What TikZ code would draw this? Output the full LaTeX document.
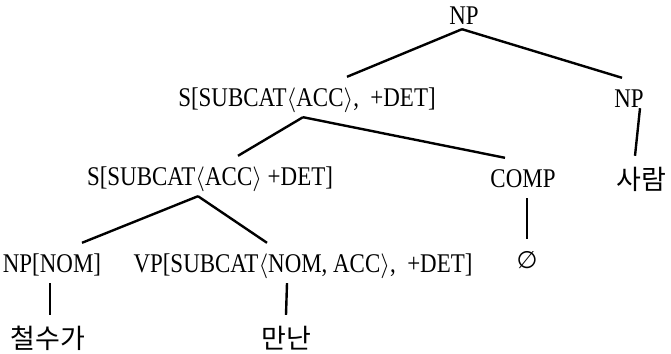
\documentclass[tikz,border=0pt]{standalone}
\usepackage{fontspec}
\usepackage{tikz}
\usetikzlibrary{positioning}
\newfontfamily\catfont[FakeStretch=0.85]{Liberation Serif}
\newfontfamily\krfont{Noto Sans CJK KR}
\newfontfamily\symfont{DejaVu Sans}
\tikzstyle{cat}=[inner xsep=0pt, inner ysep=10pt, text height=18pt, text depth=0pt, font=\catfont\fontsize{27}{32}\selectfont]
\tikzstyle{word}=[inner xsep=0pt, inner ysep=10pt, text height=22pt, text depth=0pt, font=\krfont\fontsize{27}{32}\selectfont]
\begin{document}
\begin{tikzpicture}
[line width=2.4pt, x=1pt, y=-1pt]
\useasboundingbox (0,0) rectangle (671,353);
\node[cat] (np0) at (464,16) {NP};
\node[cat] (s1) at (307,97) {S[SUBCAT$\langle$ACC$\rangle$, \ +DET]};
\node[cat] (np1) at (629,98) {NP};
\node[cat] (s2) at (210,176) {S[SUBCAT$\langle$ACC$\rangle$ +DET]};
\node[cat] (comp) at (523,178) {COMP};
\node[word] (sa) at (641,178) {사람};
\node[cat] (npnom) at (52,263) {NP[NOM]};
\node[cat] (vp) at (303,263) {VP[SUBCAT$\langle$NOM, ACC$\rangle$, \ +DET]};
\node[cat, font=\symfont\fontsize{24}{30}\selectfont] (nil) at (527,259) {∅};
\node[word] (cs) at (48,337) {철수가};
\node[word] (mn) at (286,337) {만난};
\path[]
   ([xshift=-2pt,yshift=7pt]np0.south) edge ([xshift=40pt]s1.north)
   ([xshift=-2pt,yshift=7pt]np0.south) edge ([xshift=-7pt]np1.north)
   ([xshift=11pt,yshift=10pt]np1.south) edge ([xshift=-6pt]sa.north)
   ([xshift=-4pt]s1.south) edge ([xshift=28pt]s2.north)
   ([xshift=-4pt]s1.south) edge ([xshift=-18pt]comp.north)
   ([xshift=-12pt]s2.south) edge ([xshift=30pt]npnom.north)
   ([xshift=-12pt]s2.south) edge ([xshift=-36pt]vp.north)
   ([xshift=4pt]comp.south) edge (nil.north)
   ([xshift=-2pt]npnom.south) edge ([xshift=2pt]cs.north)
   ([xshift=-16pt]vp.south) edge (mn.north);
\end{tikzpicture}
\end{document}
